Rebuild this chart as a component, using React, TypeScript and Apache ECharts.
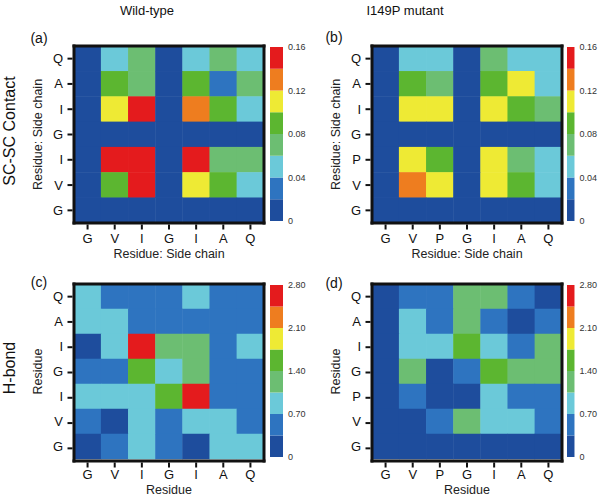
import React, { useEffect, useRef } from "react";
import * as echarts from "echarts";

// ---- data ----
const wtResidues = ["G", "V", "I", "G", "I", "A", "Q"];
const mutResidues = ["G", "V", "P", "G", "I", "A", "Q"];
// rows listed top to bottom
const wtRows = ["Q", "A", "I", "G", "I", "V", "G"];
const mutRows = ["Q", "A", "I", "G", "P", "V", "G"];

const palette = ["#1e4d9d", "#2e74c0", "#6bc9d9", "#6cbe72", "#5cb630", "#eeea34", "#ee7d1f", "#e41b1d"];

const scEdges = [0, 0.02, 0.04, 0.06, 0.08, 0.1, 0.12, 0.14, 0.16];
const hbEdges = [0, 0.35, 0.7, 1.05, 1.4, 1.75, 2.1, 2.45, 2.8];

const wtSC = [
  [0, 0.05, 0.07, 0, 0.05, 0.07, 0.05],
  [0, 0.09, 0.07, 0, 0.09, 0.03, 0.07],
  [0, 0.11, 0.15, 0, 0.13, 0.09, 0.05],
  [0, 0, 0, 0, 0, 0, 0],
  [0, 0.15, 0.15, 0, 0.15, 0.07, 0.07],
  [0, 0.09, 0.15, 0, 0.11, 0.09, 0.05],
  [0, 0, 0, 0, 0, 0, 0],
];
const mutSC = [
  [0, 0.05, 0.05, 0, 0.07, 0.05, 0.05],
  [0, 0.09, 0.07, 0, 0.09, 0.11, 0.05],
  [0, 0.11, 0.11, 0, 0.11, 0.09, 0.07],
  [0, 0, 0, 0, 0, 0, 0],
  [0, 0.11, 0.09, 0, 0.11, 0.07, 0.05],
  [0, 0.13, 0.11, 0, 0.11, 0.09, 0.05],
  [0, 0, 0, 0, 0, 0, 0],
];
const wtHB = [
  [0.9, 0.5, 0.5, 0.5, 0.9, 0.5, 0.5],
  [0.9, 0.9, 0.5, 0.5, 0.5, 0.5, 0.5],
  [0.2, 0.9, 2.6, 1.2, 1.2, 0.5, 0.9],
  [0.5, 0.5, 1.6, 0.9, 1.2, 0.5, 0.5],
  [0.9, 0.9, 0.9, 1.6, 2.6, 0.5, 0.5],
  [0.5, 0.2, 0.9, 0.5, 0.9, 0.9, 0.5],
  [0.2, 0.5, 0.9, 0.5, 0.2, 0.9, 0.9],
];
const mutHB = [
  [0.2, 0.5, 0.5, 1.2, 1.2, 0.5, 0.2],
  [0.2, 0.9, 0.5, 1.2, 0.5, 0.2, 0.5],
  [0.2, 0.9, 0.9, 1.6, 0.9, 0.5, 1.2],
  [0.2, 1.2, 0.2, 0.5, 1.6, 1.2, 1.2],
  [0.2, 0.5, 0.2, 0.2, 0.9, 0.5, 0.5],
  [0.2, 0.2, 0.5, 1.2, 0.9, 0.9, 0.5],
  [0.1, 0.1, 0.1, 0.1, 0.1, 0.1, 0.1],
];

const FONT = "Liberation Sans, Arial, sans-serif";
const INK = "#111111";

type Box = { left: number; top: number; width: number; height: number };
type Panel = {
  cols: string[];
  rows: string[];
  values: number[][];
  edges: number[];
  xName: string;
  yName: string;
  grid: Box;
  bar: Box;
};

const panels: Panel[] = [
  { cols: wtResidues, rows: wtRows, values: wtSC, edges: scEdges, xName: "Residue: Side chain", yName: "Residue: Side chain",
    grid: { left: 74, top: 46, width: 190, height: 177 }, bar: { left: 270, top: 47, width: 13, height: 174 } },
  { cols: mutResidues, rows: mutRows, values: mutSC, edges: scEdges, xName: "Residue: Side chain", yName: "Residue: Side chain",
    grid: { left: 372, top: 46, width: 190, height: 177 }, bar: { left: 567, top: 47, width: 13, height: 174 } },
  { cols: wtResidues, rows: wtRows, values: wtHB, edges: hbEdges, xName: "Residue", yName: "Residue",
    grid: { left: 74, top: 284, width: 190, height: 177 }, bar: { left: 270, top: 285, width: 13, height: 172 } },
  { cols: mutResidues, rows: mutRows, values: mutHB, edges: hbEdges, xName: "Residue", yName: "Residue",
    grid: { left: 372, top: 284, width: 190, height: 177 }, bar: { left: 567, top: 285, width: 13, height: 172 } },
];

const txt = (text: string, x: number, y: number, size: number, extra: any = {}) => ({
  type: "text", x, y, z: 100,
  style: { text, fontSize: size, fontFamily: FONT, fill: "#111", textAlign: "center", textVerticalAlign: "middle" },
  ...extra,
});

const labels = [
  txt("Wild-type", 147, 10, 13),
  txt("I149P mutant", 405, 10, 13),
  txt("(a)", 39, 38, 14),
  txt("(b)", 334, 37, 14),
  txt("(c)", 39, 282, 14),
  txt("(d)", 334, 283, 14),
  txt("SC-SC Contact", 9, 131, 16, { rotation: Math.PI / 2 }),
  txt("H-bond", 9, 368, 16, { rotation: Math.PI / 2 }),
];

// black frame and outward ticks for each heatmap panel (layout decoration)
function frames() {
  const out: any[] = [];
  const t = 3;
  const h = t / 2;
  const rect = (x: number, y: number, w: number, hh: number) => ({
    type: "rect", z: 100, silent: true, shape: { x, y, width: w, height: hh }, style: { fill: INK },
  });
  panels.forEach((p) => {
    const { left, top, width, height } = p.grid;
    const right = left + width;
    const bottom = top + height;
    out.push(rect(left - h, top - h, width + t, t));
    out.push(rect(left - h, bottom - h, width + t, t));
    out.push(rect(left - h, top - h, t, height + t));
    out.push(rect(right - h, top - h, t, height + t));
    const cw = width / p.cols.length;
    const ch = height / p.rows.length;
    p.cols.forEach((_, c) => out.push(rect(left + (c + 0.5) * cw - 1, bottom + h, 2, 5)));
    p.rows.forEach((_, r) => out.push(rect(left - h - 5, top + (r + 0.5) * ch - 1, 5, 2)));
  });
  return out;
}

function buildOption() {
  const grid: any[] = [];
  const xAxis: any[] = [];
  const yAxis: any[] = [];
  const series: any[] = [];
  const visualMap: any[] = [];

  panels.forEach((p, i) => {
    grid.push({ ...p.grid });
    xAxis.push({
      type: "category", gridIndex: i, data: p.cols, position: "bottom",
      axisLine: { show: false }, axisTick: { show: false },
      axisLabel: { color: "#111", fontSize: 13, fontFamily: FONT, margin: 9 },
      name: p.xName, nameLocation: "middle", nameGap: 24,
      nameTextStyle: { color: "#222", fontSize: 12.5, fontFamily: FONT },
      splitLine: { show: false },
    });
    yAxis.push({
      type: "category", gridIndex: i, data: p.rows, inverse: true, position: "left",
      axisLine: { show: false }, axisTick: { show: false },
      axisLabel: { color: "#111", fontSize: 13, fontFamily: FONT, margin: 11 },
      name: p.yName, nameLocation: "middle", nameGap: 30,
      nameTextStyle: { color: "#222", fontSize: 12.5, fontFamily: FONT },
      splitLine: { show: false },
    });
    const data: number[][] = [];
    p.values.forEach((row, r) => row.forEach((v, c) => data.push([c, r, v])));
    series.push({
      type: "heatmap", xAxisIndex: i, yAxisIndex: i, data,
      itemStyle: { borderWidth: 0 }, emphasis: { disabled: true },
    });
    visualMap.push({
      type: "piecewise", show: false, seriesIndex: i, dimension: 2,
      pieces: palette.map((color, k) => ({ gte: p.edges[k], lt: k === palette.length - 1 ? p.edges[k + 1] + 1 : p.edges[k + 1], color })),
    });
  });

  panels.forEach((p, i) => {
    const gi = 4 + i;
    grid.push({ ...p.bar });
    const maxV = p.edges[p.edges.length - 1];
    xAxis.push({ type: "value", gridIndex: gi, min: 0, max: 1, show: false });
    yAxis.push({
      type: "value", gridIndex: gi, min: 0, max: maxV, interval: maxV / 4, position: "right",
      axisLine: { show: false }, axisTick: { show: false }, splitLine: { show: false },
      axisLabel: {
        color: "#333", fontSize: 9, fontFamily: FONT, margin: 5,
        formatter: (v: number) => (v === 0 ? "0" : v.toFixed(2)),
      },
    });
    const binData = palette.map((_, k) => [p.edges[k], p.edges[k + 1], k]);
    series.push({
      type: "custom", xAxisIndex: gi, yAxisIndex: gi, data: binData, silent: true,
      renderItem: (params: any, api: any) => {
        const lo = api.coord([0, api.value(0)]);
        const hi = api.coord([1, api.value(1)]);
        return {
          type: "rect",
          shape: { x: lo[0], y: hi[1], width: hi[0] - lo[0], height: lo[1] - hi[1] },
          style: { fill: palette[api.value(2)] },
        };
      },
    });
  });

  return {
    animation: false, backgroundColor: "#fff", grid, xAxis, yAxis, series, visualMap,
    graphic: [...labels, ...frames()],
  };
}

export default function App() {
  const ref = useRef<HTMLDivElement>(null);
  useEffect(() => {
    if (!ref.current) return;
    const chart = echarts.init(ref.current, undefined, { renderer: "svg" });
    chart.setOption(buildOption() as any);
    return () => chart.dispose();
  }, []);
  return <div ref={ref} style={{ position: "fixed", left: 0, top: 0, width: 600, height: 497 }} />;
}
